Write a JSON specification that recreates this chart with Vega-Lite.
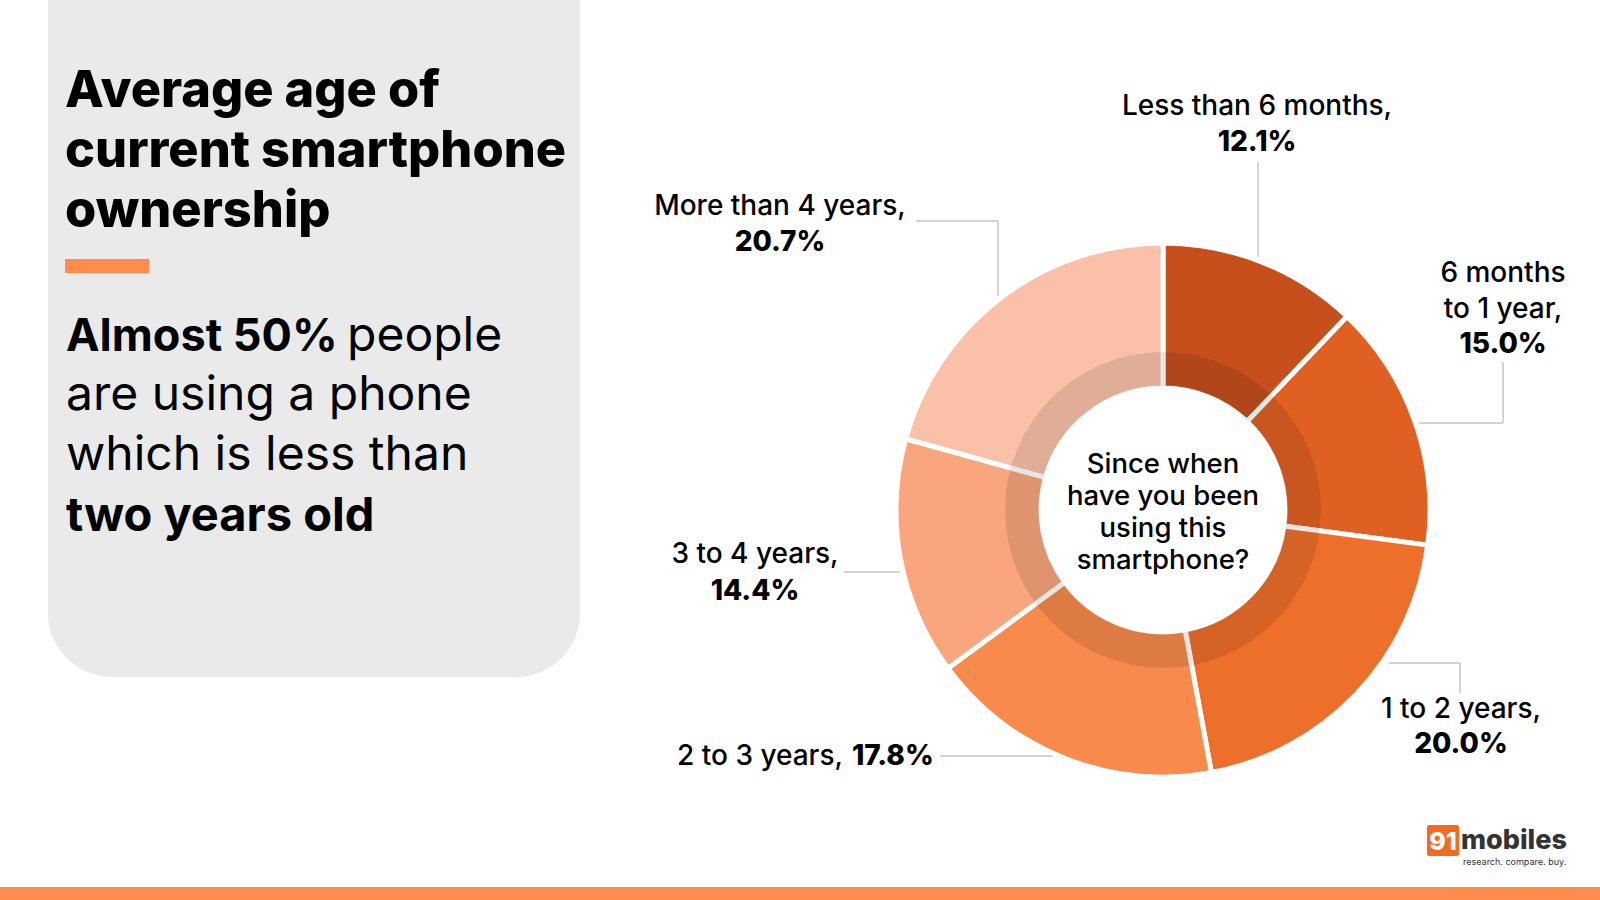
{
  "$schema": "https://vega.github.io/schema/vega-lite/v6.json",
  "width": 1600,
  "height": 900,
  "padding": 0,
  "autosize": {"type": "none"},
  "background": "#ffffff",
  "config": {"view": {"stroke": null}, "axis": {"disable": true}, "font": "Inter"},
  "data": {
    "values": [
      {"category": "Less than 6 months", "value": 12.1, "order": 1},
      {"category": "6 months to 1 year", "value": 15.0, "order": 2},
      {"category": "1 to 2 years", "value": 20.0, "order": 3},
      {"category": "2 to 3 years", "value": 17.8, "order": 4},
      {"category": "3 to 4 years", "value": 14.4, "order": 5},
      {"category": "More than 4 years", "value": 20.7, "order": 6}
    ]
  },
  "transform": [
    {"calculate": "datum.category + ','", "as": "label"},
    {"calculate": "format(datum.value, '.1f') + '%'", "as": "pct"}
  ],
  "layer": [
    {
      "data": {"values": [{}]},
      "layer": [
        {
          "mark": {"type": "rect", "color": "#EAEAEA", "cornerRadiusBottomLeft": 64, "cornerRadiusBottomRight": 64},
          "encoding": {
            "x": {"datum": 48, "type": "quantitative", "scale": {"domain": [0, 1600], "nice": false, "zero": false}},
            "x2": {"datum": 580},
            "y": {"datum": 0, "type": "quantitative", "scale": {"domain": [0, 900], "nice": false, "zero": false, "reverse": true}},
            "y2": {"datum": 677}
          }
        },
        {
          "mark": {"type": "rect", "color": "#FF8C4B"},
          "encoding": {"x": {"datum": 65, "type": "quantitative"}, "x2": {"datum": 149}, "y": {"datum": 259, "type": "quantitative"}, "y2": {"datum": 273}}
        },
        {
          "mark": {"type": "rect", "color": "#FF8C4B"},
          "encoding": {"x": {"datum": 0, "type": "quantitative"}, "x2": {"datum": 1600}, "y": {"datum": 887, "type": "quantitative"}, "y2": {"datum": 900}}
        },
        {
          "mark": {"type": "text", "text": ["Average age of", "current smartphone", "ownership"], "align": "left", "baseline": "alphabetic", "fontSize": 50.5, "fontWeight": 800, "lineHeight": 60, "color": "#000000", "font": "Inter"},
          "encoding": {"x": {"datum": 65, "type": "quantitative"}, "y": {"datum": 107, "type": "quantitative"}}
        },
        {
          "mark": {"type": "text", "text": "Almost 50%", "align": "left", "baseline": "alphabetic", "fontSize": 45, "fontWeight": 700, "color": "#000000", "font": "Inter"},
          "encoding": {"x": {"datum": 66, "type": "quantitative"}, "y": {"datum": 351, "type": "quantitative"}}
        },
        {
          "mark": {"type": "text", "text": "people", "align": "left", "baseline": "alphabetic", "fontSize": 48, "fontWeight": 400, "color": "#000000", "font": "Inter"},
          "encoding": {"x": {"datum": 347, "type": "quantitative"}, "y": {"datum": 351, "type": "quantitative"}}
        },
        {
          "mark": {"type": "text", "text": ["are using a phone", "which is less than"], "align": "left", "baseline": "alphabetic", "fontSize": 48, "fontWeight": 400, "lineHeight": 60, "color": "#000000", "font": "Inter"},
          "encoding": {"x": {"datum": 66, "type": "quantitative"}, "y": {"datum": 410, "type": "quantitative"}}
        },
        {
          "mark": {"type": "text", "text": "two years old", "align": "left", "baseline": "alphabetic", "fontSize": 47, "fontWeight": 700, "color": "#000000", "font": "Inter"},
          "encoding": {"x": {"datum": 66, "type": "quantitative"}, "y": {"datum": 531, "type": "quantitative"}}
        },
        {"mark": {"type": "rule", "color": "#A8A8A8", "strokeWidth": 1}, "encoding": {"x": {"datum": 1258, "type": "quantitative"}, "y": {"datum": 162, "type": "quantitative"}, "y2": {"datum": 257}}},
        {"mark": {"type": "rule", "color": "#A8A8A8", "strokeWidth": 1}, "encoding": {"x": {"datum": 1503, "type": "quantitative"}, "y": {"datum": 362, "type": "quantitative"}, "y2": {"datum": 423}}},
        {"mark": {"type": "rule", "color": "#A8A8A8", "strokeWidth": 1}, "encoding": {"x": {"datum": 1419, "type": "quantitative"}, "x2": {"datum": 1503}, "y": {"datum": 423, "type": "quantitative"}}},
        {"mark": {"type": "rule", "color": "#A8A8A8", "strokeWidth": 1}, "encoding": {"x": {"datum": 1389, "type": "quantitative"}, "x2": {"datum": 1460}, "y": {"datum": 663, "type": "quantitative"}}},
        {"mark": {"type": "rule", "color": "#A8A8A8", "strokeWidth": 1}, "encoding": {"x": {"datum": 1460, "type": "quantitative"}, "y": {"datum": 663, "type": "quantitative"}, "y2": {"datum": 693}}},
        {"mark": {"type": "rule", "color": "#A8A8A8", "strokeWidth": 1}, "encoding": {"x": {"datum": 940, "type": "quantitative"}, "x2": {"datum": 1053}, "y": {"datum": 756, "type": "quantitative"}}},
        {"mark": {"type": "rule", "color": "#A8A8A8", "strokeWidth": 1}, "encoding": {"x": {"datum": 844, "type": "quantitative"}, "x2": {"datum": 900}, "y": {"datum": 572, "type": "quantitative"}}},
        {"mark": {"type": "rule", "color": "#A8A8A8", "strokeWidth": 1}, "encoding": {"x": {"datum": 916, "type": "quantitative"}, "x2": {"datum": 998}, "y": {"datum": 221, "type": "quantitative"}}},
        {"mark": {"type": "rule", "color": "#A8A8A8", "strokeWidth": 1}, "encoding": {"x": {"datum": 998, "type": "quantitative"}, "y": {"datum": 221, "type": "quantitative"}, "y2": {"datum": 296}}},
        {
          "mark": {"type": "rect", "color": "#F26B21", "cornerRadius": 2},
          "encoding": {"x": {"datum": 1427, "type": "quantitative"}, "x2": {"datum": 1459}, "y": {"datum": 825, "type": "quantitative"}, "y2": {"datum": 856}}
        },
        {
          "mark": {"type": "text", "text": "91", "align": "center", "baseline": "alphabetic", "fontSize": 25, "fontWeight": 800, "color": "#ffffff", "font": "Inter"},
          "encoding": {"x": {"datum": 1443, "type": "quantitative"}, "y": {"datum": 850, "type": "quantitative"}}
        },
        {
          "mark": {"type": "text", "text": "mobiles", "align": "left", "baseline": "alphabetic", "fontSize": 27, "fontWeight": 800, "color": "#333333", "font": "Inter"},
          "encoding": {"x": {"datum": 1461, "type": "quantitative"}, "y": {"datum": 849, "type": "quantitative"}}
        },
        {
          "mark": {"type": "text", "text": "research.  compare.  buy.", "align": "left", "baseline": "alphabetic", "fontSize": 9, "fontWeight": 400, "color": "#333333", "font": "Inter"},
          "encoding": {"x": {"datum": 1463, "type": "quantitative"}, "y": {"datum": 865, "type": "quantitative"}}
        }
      ]
    },
    {
      "mark": {"type": "arc", "outerRadius": 267, "innerRadius": 122, "stroke": "#ffffff", "strokeWidth": 5},
      "encoding": {
        "x": {"datum": 1163, "type": "quantitative"},
        "y": {"datum": 510, "type": "quantitative"},
        "theta": {"field": "value", "type": "quantitative", "stack": true},
        "order": {"field": "order", "type": "quantitative"},
        "color": {
          "field": "category", "type": "nominal", "legend": null,
          "scale": {
            "domain": ["Less than 6 months", "6 months to 1 year", "1 to 2 years", "2 to 3 years", "3 to 4 years", "More than 4 years"],
            "range": ["#C64F1C", "#E06022", "#EE6F2A", "#F88A4B", "#F9A57D", "#FAC1A8"]
          }
        }
      }
    },
    {
      "data": {"values": [{}]},
      "layer": [
        {
          "mark": {"type": "arc", "theta": 0, "theta2": 6.2832, "radius": 158, "radius2": 124, "color": "#000000", "opacity": 0.1},
          "encoding": {"x": {"datum": 1163, "type": "quantitative"}, "y": {"datum": 510, "type": "quantitative"}}
        },
        {
          "mark": {"type": "text", "text": ["Since when", "have you been", "using this", "smartphone?"], "align": "center", "baseline": "alphabetic", "fontSize": 27.5, "fontWeight": 500, "lineHeight": 32, "color": "#000000", "font": "Inter"},
          "encoding": {"x": {"datum": 1163, "type": "quantitative"}, "y": {"datum": 473, "type": "quantitative"}}
        }
      ]
    },
    {
      "transform": [{"filter": "datum.order == 1"}],
      "layer": [
        {"mark": {"type": "text", "align": "center", "baseline": "alphabetic", "fontSize": 28, "fontWeight": 500, "color": "#000000", "font": "Inter"},
         "encoding": {"x": {"datum": 1257, "type": "quantitative"}, "y": {"datum": 115, "type": "quantitative"}, "text": {"field": "label"}}},
        {"mark": {"type": "text", "align": "center", "baseline": "alphabetic", "fontSize": 28, "fontWeight": 800, "color": "#000000", "font": "Inter"},
         "encoding": {"x": {"datum": 1257, "type": "quantitative"}, "y": {"datum": 151, "type": "quantitative"}, "text": {"field": "pct"}}}
      ]
    },
    {
      "transform": [{"filter": "datum.order == 2"}, {"calculate": "replace(datum.category, ' to ', '\\nto ') + ','", "as": "ml"}],
      "layer": [
        {"mark": {"type": "text", "align": "center", "baseline": "alphabetic", "fontSize": 28, "fontWeight": 500, "lineBreak": "\n", "lineHeight": 36, "color": "#000000", "font": "Inter"},
         "encoding": {"x": {"datum": 1503, "type": "quantitative"}, "y": {"datum": 282, "type": "quantitative"}, "text": {"field": "ml"}}},
        {"mark": {"type": "text", "align": "center", "baseline": "alphabetic", "fontSize": 28, "fontWeight": 800, "color": "#000000", "font": "Inter"},
         "encoding": {"x": {"datum": 1503, "type": "quantitative"}, "y": {"datum": 353, "type": "quantitative"}, "text": {"field": "pct"}}}
      ]
    },
    {
      "transform": [{"filter": "datum.order == 3"}],
      "layer": [
        {"mark": {"type": "text", "align": "center", "baseline": "alphabetic", "fontSize": 28, "fontWeight": 500, "color": "#000000", "font": "Inter"},
         "encoding": {"x": {"datum": 1461, "type": "quantitative"}, "y": {"datum": 718, "type": "quantitative"}, "text": {"field": "label"}}},
        {"mark": {"type": "text", "align": "center", "baseline": "alphabetic", "fontSize": 28, "fontWeight": 800, "color": "#000000", "font": "Inter"},
         "encoding": {"x": {"datum": 1461, "type": "quantitative"}, "y": {"datum": 753, "type": "quantitative"}, "text": {"field": "pct"}}}
      ]
    },
    {
      "transform": [{"filter": "datum.order == 4"}],
      "layer": [
        {"mark": {"type": "text", "align": "right", "baseline": "alphabetic", "fontSize": 28, "fontWeight": 500, "color": "#000000", "font": "Inter"},
         "encoding": {"x": {"datum": 843, "type": "quantitative"}, "y": {"datum": 765, "type": "quantitative"}, "text": {"field": "label"}}},
        {"mark": {"type": "text", "align": "left", "baseline": "alphabetic", "fontSize": 28, "fontWeight": 800, "color": "#000000", "font": "Inter"},
         "encoding": {"x": {"datum": 852, "type": "quantitative"}, "y": {"datum": 765, "type": "quantitative"}, "text": {"field": "pct"}}}
      ]
    },
    {
      "transform": [{"filter": "datum.order == 5"}],
      "layer": [
        {"mark": {"type": "text", "align": "center", "baseline": "alphabetic", "fontSize": 28, "fontWeight": 500, "color": "#000000", "font": "Inter"},
         "encoding": {"x": {"datum": 755, "type": "quantitative"}, "y": {"datum": 563, "type": "quantitative"}, "text": {"field": "label"}}},
        {"mark": {"type": "text", "align": "center", "baseline": "alphabetic", "fontSize": 28, "fontWeight": 800, "color": "#000000", "font": "Inter"},
         "encoding": {"x": {"datum": 755, "type": "quantitative"}, "y": {"datum": 600, "type": "quantitative"}, "text": {"field": "pct"}}}
      ]
    },
    {
      "transform": [{"filter": "datum.order == 6"}],
      "layer": [
        {"mark": {"type": "text", "align": "center", "baseline": "alphabetic", "fontSize": 28, "fontWeight": 500, "color": "#000000", "font": "Inter"},
         "encoding": {"x": {"datum": 780, "type": "quantitative"}, "y": {"datum": 215, "type": "quantitative"}, "text": {"field": "label"}}},
        {"mark": {"type": "text", "align": "center", "baseline": "alphabetic", "fontSize": 28, "fontWeight": 800, "color": "#000000", "font": "Inter"},
         "encoding": {"x": {"datum": 780, "type": "quantitative"}, "y": {"datum": 251, "type": "quantitative"}, "text": {"field": "pct"}}}
      ]
    }
  ]
}
